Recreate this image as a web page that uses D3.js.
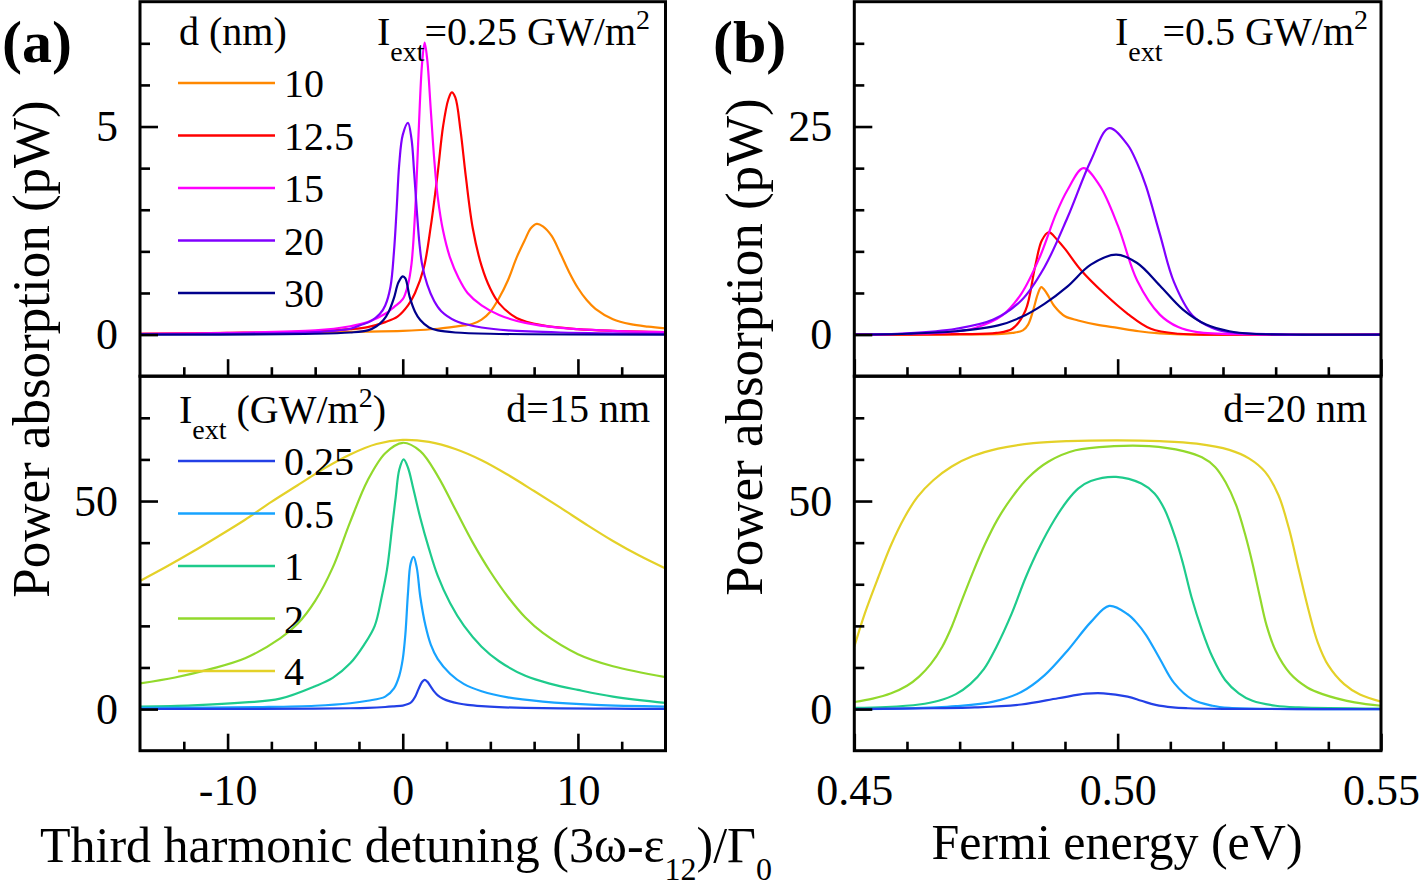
<!DOCTYPE html>
<html><head><meta charset="utf-8">
<script src="https://cdn.jsdelivr.net/npm/d3@7/dist/d3.min.js"></script>
<style>
body{margin:0;background:#fff}
svg{display:block}
text{font-family:"Liberation Serif","Times New Roman",serif;fill:#000}
</style>
</head><body>
<svg id="c" width="1421" height="890"></svg>
<script>
// ---------------- DATA ----------------
// (a) top: detuning vs absorption, I_ext = 0.25 GW/m^2, various d (nm)
const thicknessLabels = ["10", "12.5", "15", "20", "30"];
const thicknessColors = ["#ff8800", "#ff0000", "#ff00ff", "#8000ff", "#00008c"];
const detD10 = [[-15,0.02],[-10,0.03],[-5,0.05],[-2,0.07],[0,0.09],[1,0.11],[2,0.14],[3,0.19],[3.5,0.22],[4,0.26],[4.5,0.36],[5,0.55],[5.5,0.88],[6,1.3],[6.5,1.85],[7,2.3],[7.3,2.55],[7.65,2.66],[8,2.6],[8.5,2.37],[9,1.95],[9.5,1.5],[10,1.12],[10.5,0.83],[11,0.62],[12,0.37],[13,0.25],[14,0.19],[15,0.15]];
const detD125 = [[-15,0.02],[-10,0.04],[-5,0.08],[-3,0.13],[-2,0.18],[-1,0.3],[-0.3,0.43],[0.3,0.7],[0.7,1.0],[1.2,1.6],[1.6,2.6],[2,3.9],[2.3,5.0],[2.6,5.65],[2.8,5.82],[3.0,5.7],[3.3,4.9],[3.6,3.8],[4.0,2.55],[4.5,1.65],[5,1.1],[5.5,0.75],[6.5,0.4],[8,0.22],[10,0.13],[12,0.09],[15,0.06]];
const detD15 = [[-15,0.02],[-10,0.04],[-5,0.1],[-3,0.2],[-2,0.3],[-1,0.5],[-0.5,0.66],[0,0.85],[0.3,1.2],[0.5,1.7],[0.7,2.9],[0.9,4.8],[1.1,6.5],[1.25,7.02],[1.4,6.6],[1.6,5.4],[1.8,4.2],[2.0,3.3],[2.3,2.5],[2.7,1.85],[3.2,1.35],[3.7,1.0],[4.5,0.7],[5.5,0.47],[7,0.28],[9,0.16],[12,0.09],[15,0.06]];
const detD20 = [[-15,0.01],[-10,0.02],[-5,0.06],[-3,0.14],[-2.4,0.23],[-1.8,0.33],[-1.3,0.5],[-1,0.7],[-0.7,1.15],[-0.5,2.0],[-0.35,3.0],[-0.2,4.1],[0,4.8],[0.3,5.09],[0.5,4.7],[0.65,3.9],[0.8,3.0],[0.95,2.2],[1.1,1.7],[1.4,1.2],[1.8,0.8],[2.2,0.56],[3,0.33],[3.5,0.26],[4.5,0.17],[6,0.1],[9,0.05],[15,0.02]];
const detD30 = [[-15,0.0],[-5,0.02],[-3,0.05],[-2,0.1],[-1.5,0.2],[-1.1,0.35],[-0.8,0.55],[-0.5,0.88],[-0.25,1.25],[0,1.4],[0.15,1.35],[0.4,0.9],[0.7,0.55],[1,0.35],[1.5,0.17],[2,0.1],[3,0.05],[5,0.02],[15,0.0]];

// (a) bottom: d = 15 nm, various I_ext (GW/m^2)
const intensityLabels = ["0.25", "0.5", "1", "2", "4"];
const intensityColors = ["#2340e6", "#17a3ff", "#1ecb8c", "#92d92c", "#e4d128"];
const detI025 = [[-15,0.02],[-10,0.04],[-5,0.1],[-3,0.2],[-2,0.3],[-1,0.5],[-0.5,0.66],[0,0.85],[0.3,1.2],[0.5,1.7],[0.7,2.9],[0.9,4.8],[1.1,6.5],[1.25,7.02],[1.4,6.6],[1.6,5.4],[1.8,4.2],[2.0,3.3],[2.3,2.5],[2.7,1.85],[3.2,1.35],[3.7,1.0],[4.5,0.7],[5.5,0.47],[7,0.28],[9,0.16],[12,0.09],[15,0.06]];
const detI05 = [[-15,0.3],[-8,0.5],[-5,0.8],[-3,1.4],[-2,2],[-1,3],[-0.5,5],[-0.2,8],[0,12],[0.15,18],[0.3,28],[0.45,35],[0.62,36.6],[0.8,34],[1.0,27],[1.3,20],[1.6,15.5],[2,12],[2.7,8.5],[3.5,6],[4.5,4.3],[6,2.8],[8,1.8],[11,1],[15,0.6]];
const detI1 = [[-15,0.6],[-12,0.9],[-9,1.6],[-7,2.5],[-5,5.5],[-4,7.5],[-3,11],[-2.2,15.5],[-1.6,20],[-1.2,27],[-0.9,33.5],[-0.6,44],[-0.4,51],[-0.2,57.5],[0.05,60],[0.3,58],[0.6,53],[1,46],[1.5,38.5],[2,32],[2.7,25.5],[3.5,20],[4.5,15],[5.5,11.5],[7,8],[8.5,6],[10,4.6],[12,3],[15,1.5]];
const detI2 = [[-15,6.2],[-13,7.6],[-11,9.6],[-9,12.2],[-7,17],[-6,20.5],[-5,26],[-4,34],[-3,45],[-2,55],[-1,61.5],[0,64],[1,62],[2,56],[3,48],[4,40],[5,33],[6,27],[7,22],[8,18.3],[10,13.2],[12,10.3],[15,7.7]];
const detI4 = [[-15,30.8],[-13.5,34.2],[-12,37.8],[-10.5,41.6],[-9,45.5],[-7.5,49.8],[-6,53.8],[-4.5,57.8],[-3,61.2],[-1.5,63.7],[0,64.7],[1.5,64.2],[3,62.5],[4.5,59.8],[6,56.3],[7.5,52.4],[9,48.4],[10.5,44.3],[12,40.4],[13.5,36.9],[15,33.8]];

// (b) top: Fermi energy vs absorption, I_ext = 0.5 GW/m^2, various d
const fermiD10 = [[0.45,0],[0.47,0.02],[0.478,0.08],[0.480,0.2],[0.482,0.5],[0.483,1.2],[0.484,3.0],[0.4848,4.8],[0.4855,5.7],[0.4865,5.0],[0.488,3.4],[0.490,2.2],[0.4925,1.7],[0.496,1.2],[0.500,0.8],[0.504,0.4],[0.508,0.15],[0.512,0.03],[0.55,0]];
const fermiD125 = [[0.45,0],[0.47,0.05],[0.477,0.2],[0.480,0.7],[0.4825,2.9],[0.4843,8.1],[0.4856,11.3],[0.4869,12.3],[0.4885,11.4],[0.490,10.3],[0.4931,7.7],[0.4975,4.9],[0.5019,2.5],[0.5063,0.7],[0.5116,0.1],[0.52,0],[0.55,0]];
const fermiD15 = [[0.45,0],[0.46,0.1],[0.468,0.3],[0.4729,0.8],[0.4781,2.3],[0.4817,4.9],[0.4852,9.3],[0.4883,14.5],[0.4905,17.4],[0.4935,20.0],[0.4966,17.9],[0.5001,13.0],[0.5037,6.5],[0.508,2.4],[0.5115,0.9],[0.5151,0.3],[0.525,0.02],[0.55,0]];
const fermiD20 = [[0.45,0],[0.46,0.15],[0.4693,0.7],[0.4764,1.8],[0.4817,4.1],[0.4861,8.1],[0.4905,14.1],[0.4949,20.9],[0.4984,24.8],[0.5019,22.8],[0.5037,20.6],[0.5054,17.8],[0.508,12.1],[0.5107,6.3],[0.5142,2.3],[0.518,0.8],[0.5212,0.3],[0.53,0.03],[0.55,0]];
const fermiD30 = [[0.45,0],[0.46,0.1],[0.4693,0.4],[0.4773,1.1],[0.4817,2.1],[0.4861,3.7],[0.4905,5.8],[0.4949,8.4],[0.4997,9.6],[0.5037,8.6],[0.508,5.9],[0.5124,3.0],[0.5168,1.2],[0.5212,0.4],[0.5256,0.1],[0.535,0],[0.55,0]];

// (b) bottom: d = 20 nm, various I_ext
const fermiI025 = [[0.45,0],[0.465,0.2],[0.4729,0.4],[0.4817,1.1],[0.4887,2.6],[0.494,3.7],[0.4973,3.8],[0.5019,3.0],[0.5045,2.0],[0.5072,1.0],[0.5105,0.4],[0.5133,0.2],[0.52,0.05],[0.55,0]];
const fermiI05 = [[0.45,0],[0.46,0.15],[0.4693,0.7],[0.4764,1.8],[0.4817,4.1],[0.4861,8.1],[0.4905,14.1],[0.4949,20.9],[0.4984,24.8],[0.5019,22.8],[0.5037,20.6],[0.5054,17.8],[0.508,12.1],[0.5107,6.3],[0.5142,2.3],[0.518,0.8],[0.5212,0.3],[0.53,0.03],[0.55,0]];
const fermiI1 = [[0.45,0.3],[0.456,0.5],[0.4623,1.1],[0.466,2],[0.4693,3.6],[0.472,6],[0.4746,9.6],[0.477,15],[0.4799,23],[0.4825,31.5],[0.4852,39],[0.488,45.5],[0.4905,50.2],[0.4925,53],[0.4949,54.8],[0.4997,55.8],[0.5045,54.2],[0.507,51.8],[0.5089,48],[0.511,41],[0.5124,35],[0.514,27],[0.516,19],[0.518,12.5],[0.5204,7],[0.523,3.8],[0.5256,2],[0.53,0.8],[0.5344,0.4],[0.55,0.1]];
const fermiI2 = [[0.45,1.7],[0.4535,2.5],[0.457,3.8],[0.46,5.6],[0.4623,7.8],[0.4645,10.8],[0.4667,15],[0.4685,19.8],[0.4702,25.4],[0.4725,32.8],[0.4748,39.6],[0.4772,45.6],[0.48,51],[0.483,55.6],[0.4869,59.5],[0.492,62.2],[0.4993,63.2],[0.506,63.2],[0.5125,62.0],[0.516,60.5],[0.5185,58.2],[0.5205,54.5],[0.5225,49],[0.5242,42],[0.5256,35],[0.527,27],[0.5283,20],[0.530,14],[0.5327,8.6],[0.536,5.2],[0.5389,3.6],[0.545,1.6],[0.55,0.8]];
const fermiI4 = [[0.45,15],[0.452,23],[0.4545,31.5],[0.457,39.5],[0.4595,46],[0.462,51],[0.465,55],[0.4685,58.3],[0.4725,60.8],[0.4773,62.6],[0.484,63.9],[0.4905,64.4],[0.5,64.6],[0.508,64.4],[0.515,63.8],[0.5212,62.3],[0.525,60.2],[0.528,57],[0.5305,51.5],[0.5325,43.5],[0.5344,33.4],[0.5362,24],[0.538,16],[0.540,10.5],[0.543,6],[0.546,3.5],[0.55,1.8]];

// axis ticks
const detMajor = [-10, 0, 10];
const detMinor = [-12.5, -7.5, -5, -2.5, 2.5, 5, 7.5, 12.5];
const fermiMajor = [0.45, 0.50, 0.55];
const fermiMinor = [0.46, 0.47, 0.48, 0.49, 0.51, 0.52, 0.53, 0.54];
const yTopLeftMajor = [0, 5], yTopLeftMinor = [1, 2, 3, 4, 6, 7];
const yTopRightMajor = [0, 25], yTopRightMinor = [5, 10, 15, 20, 30, 35];
const yBottomMajor = [0, 50], yBottomMinor = [10, 20, 30, 40, 60, 70];

// ---------------- DRAW ----------------
const svg = d3.select("#c");
const FONT_TICK = 44, FONT_TITLE = 50;

const colL = [140, 665.5], colR = [854.3, 1381];
const rowT = [1.7, 376.2], rowB = [376.2, 750.7];

let clipId = 0;
function panel(cfg) {
  const x = d3.scaleLinear().domain(cfg.xDomain).range(cfg.col);
  const y = d3.scaleLinear().domain(cfg.yDomain).range([cfg.row[1], cfg.row[0]]);
  const g = svg.append("g");
  const id = "clip" + (clipId++);
  g.append("clipPath").attr("id", id).append("rect")
    .attr("x", cfg.col[0]).attr("y", cfg.row[0])
    .attr("width", cfg.col[1] - cfg.col[0]).attr("height", cfg.row[1] - cfg.row[0]);
  const line = d3.line().x(d => x(d[0])).y(d => y(d[1])).curve(d3.curveCatmullRom.alpha(0.5));
  const lg = g.append("g").attr("clip-path", `url(#${id})`);
  cfg.series.forEach((s, i) => {
    lg.append("path").datum(s).attr("d", line)
      .attr("fill", "none").attr("stroke", cfg.colors[i]).attr("stroke-width", 2.2)
      .attr("stroke-linejoin", "round");
  });
  // x ticks (inward)
  const gx = g.append("g").attr("transform", `translate(0,${cfg.row[1]})`);
  gx.call(d3.axisBottom(x).tickValues(cfg.xMinor).tickSizeInner(-9).tickSizeOuter(0).tickFormat(""));
  const gx2 = g.append("g").attr("transform", `translate(0,${cfg.row[1]})`);
  gx2.call(d3.axisBottom(x).tickValues(cfg.xMajor).tickSizeInner(-17).tickSizeOuter(0)
    .tickPadding(23).tickFormat(cfg.showX ? cfg.xFormat : ""));
  // y ticks (inward)
  const gy = g.append("g").attr("transform", `translate(${cfg.col[0]},0)`);
  gy.call(d3.axisLeft(y).tickValues(cfg.yMinor).tickSizeInner(-10).tickSizeOuter(0).tickFormat(""));
  const gy2 = g.append("g").attr("transform", `translate(${cfg.col[0]},0)`);
  gy2.call(d3.axisLeft(y).tickValues(cfg.yMajor).tickSizeInner(-18).tickSizeOuter(0)
    .tickPadding(22).tickFormat(d => String(d)));
  [gx, gx2, gy, gy2].forEach(a => {
    a.select(".domain").remove();
    a.selectAll(".tick line").attr("stroke", "#000").attr("stroke-width", 2.6);
    a.selectAll(".tick text").attr("font-size", FONT_TICK)
      .style("font-family", '"Liberation Serif","Times New Roman",serif').attr("fill", "#000");
  });
  // frame
  g.append("rect").attr("x", cfg.col[0]).attr("y", cfg.row[0])
    .attr("width", cfg.col[1] - cfg.col[0]).attr("height", cfg.row[1] - cfg.row[0])
    .attr("fill", "none").attr("stroke", "#000").attr("stroke-width", 3);
  return {x, y, g};
}

panel({col: colL, row: rowT, xDomain: [-15, 15], yDomain: [-1, 8],
  xMajor: detMajor, xMinor: detMinor, yMajor: yTopLeftMajor, yMinor: yTopLeftMinor,
  showX: false, series: [detD10, detD125, detD15, detD20, detD30], colors: thicknessColors});
panel({col: colL, row: rowB, xDomain: [-15, 15], yDomain: [-10, 80],
  xMajor: detMajor, xMinor: detMinor, yMajor: yBottomMajor, yMinor: yBottomMinor,
  showX: true, xFormat: d => String(d),
  series: [detI4, detI2, detI1, detI05, detI025], colors: intensityColors.slice().reverse()});
panel({col: colR, row: rowT, xDomain: [0.45, 0.55], yDomain: [-5, 40],
  xMajor: fermiMajor, xMinor: fermiMinor, yMajor: yTopRightMajor, yMinor: yTopRightMinor,
  showX: false, series: [fermiD10, fermiD125, fermiD15, fermiD20, fermiD30], colors: thicknessColors});
panel({col: colR, row: rowB, xDomain: [0.45, 0.55], yDomain: [-10, 80],
  xMajor: fermiMajor, xMinor: fermiMinor, yMajor: yBottomMajor, yMinor: yBottomMinor,
  showX: true, xFormat: d3.format(".2f"),
  series: [fermiI4, fermiI2, fermiI1, fermiI05, fermiI025], colors: intensityColors.slice().reverse()});

// legends
function legend(labels, colors, y0) {
  labels.forEach((lab, i) => {
    const yy = y0 + 38 + i * 52.5;
    svg.append("line").attr("x1", 178).attr("x2", 275).attr("y1", yy).attr("y2", yy)
      .attr("stroke", colors[i]).attr("stroke-width", 2.4);
    svg.append("text").attr("x", 284).attr("y", yy + 14).attr("font-size", 40).text(lab);
  });
}
svg.append("text").attr("x", 179).attr("y", 45).attr("font-size", 40).text("d (nm)");
legend(thicknessLabels, thicknessColors, 45);
{
  const t = svg.append("text").attr("x", 179).attr("y", 423).attr("font-size", 40);
  t.append("tspan").text("I");
  t.append("tspan").attr("font-size", 28).attr("dy", 16).text("ext");
  t.append("tspan").attr("dy", -16).text(" (GW/m");
  t.append("tspan").attr("font-size", 28).attr("dy", -16).text("2");
  t.append("tspan").attr("dy", 16).text(")");
}
legend(intensityLabels, intensityColors, 423);

// annotations
function iext(xEnd, y, val) {
  const t = svg.append("text").attr("x", xEnd).attr("y", y).attr("font-size", 40).attr("text-anchor", "end");
  t.append("tspan").text("I");
  t.append("tspan").attr("font-size", 28).attr("dy", 16).text("ext");
  t.append("tspan").attr("dy", -16).text("=" + val + " GW/m");
  t.append("tspan").attr("font-size", 28).attr("dy", -16).text("2");
}
iext(650, 45, "0.25");
iext(1368, 45, "0.5");
svg.append("text").attr("x", 650).attr("y", 422).attr("font-size", 40).attr("text-anchor", "end").text("d=15 nm");
svg.append("text").attr("x", 1367).attr("y", 422).attr("font-size", 40).attr("text-anchor", "end").text("d=20 nm");

// panel labels
svg.append("text").attr("x", 2).attr("y", 62).attr("font-size", 60).attr("font-weight", "bold").text("(a)");
svg.append("text").attr("x", 713).attr("y", 62).attr("font-size", 60).attr("font-weight", "bold").text("(b)");

// axis titles
{
  const t = svg.append("text").attr("x", 406).attr("y", 862).attr("font-size", FONT_TITLE).attr("text-anchor", "middle");
  t.append("tspan").text("Third harmonic detuning (3ω-ε");
  t.append("tspan").attr("font-size", 32).attr("dy", 18).text("12");
  t.append("tspan").attr("dy", -18).text(")/Γ");
  t.append("tspan").attr("font-size", 32).attr("dy", 18).text("0");
}
svg.append("text").attr("x", 1117).attr("y", 859).attr("font-size", FONT_TITLE).attr("text-anchor", "middle").text("Fermi energy (eV)");
svg.append("text").attr("transform", "translate(49,349) rotate(-90)").attr("font-size", 53)
  .attr("text-anchor", "middle").text("Power absorption (pW)");
svg.append("text").attr("transform", "translate(762,347) rotate(-90)").attr("font-size", 53)
  .attr("text-anchor", "middle").text("Power absorption (pW)");
</script>
</body></html>
